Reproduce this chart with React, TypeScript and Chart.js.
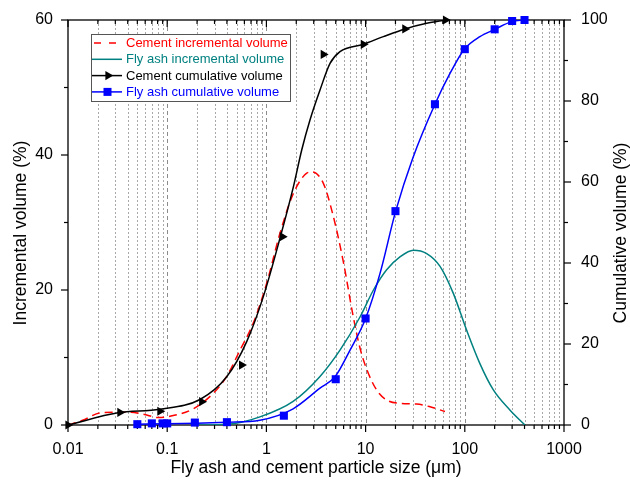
import { useEffect, useRef } from 'react';
import { Chart, registerables } from 'chart.js';

Chart.register(...registerables);

// Particle size axis (µm), log scale
const SIZE_MIN = 0.01;
const SIZE_MAX = 1000;
const DECADES = [0.01, 0.1, 1, 10, 100, 1000];
const DECADE_LABELS = ['0.01', '0.1', '1', '10', '100', '1000'];
const INC_TICKS = [0, 20, 40, 60];
const CUM_TICKS = [0, 20, 40, 60, 80, 100];

// Cement incremental volume (%) – fitted distribution curve
const CEMENT_INC_SIZE = [0.01, 0.0143, 0.021, 0.0334, 0.0422, 0.0574, 0.082, 0.115, 0.183, 0.292, 0.398, 0.542, 0.738, 1.007, 1.37, 1.87, 2.55, 2.9, 3.75, 4.73, 5.96, 7.52, 8.78, 10.3, 12.9, 16.3, 22.2, 32.7, 44.6, 63.1];
const CEMENT_INC = [0, 0.74, 1.8, 1.9, 1.9, 1.6, 1.1, 1.4, 2.4, 4.7, 7.2, 11.1, 15.1, 21.0, 28.4, 34.3, 37.3, 37.5, 35.8, 30.9, 24.2, 16.0, 11.4, 8.2, 5.2, 3.7, 3.2, 3.1, 2.7, 2.0];

// Fly ash incremental volume (%) – fitted distribution curve
const FLYASH_INC_SIZE = [0.2, 0.41, 0.86, 1.86, 3.47, 5.52, 8.78, 12.0, 16.3, 22.2, 30.3, 41.3, 56.3, 76.6, 104, 142, 194, 286, 404];
const FLYASH_INC = [0, 0.1, 1.2, 3.5, 7.2, 11.1, 16.0, 20.0, 23.0, 24.9, 25.9, 25.4, 23.5, 19.5, 14.1, 9.1, 5.2, 2.2, 0];

// Cement cumulative volume (%) – fitted curve and measured points
const CEMENT_CUM_SIZE = [0.01, 0.0319, 0.0845, 0.214, 0.398, 0.633, 0.931, 1.37, 1.87, 2.27, 2.75, 3.47, 4.38, 5.52, 9.48, 15.1, 24.9, 41.3, 64.1];
const CEMENT_CUM = [0, 3.0, 3.9, 6.3, 11.9, 20.6, 31.7, 46.1, 58.8, 67.9, 75.3, 82.7, 89.3, 92.2, 94.0, 95.9, 97.8, 99.2, 100];
const CEMENT_PTS_SIZE = [0.01, 0.0334, 0.0845, 0.223, 0.563, 1.45, 3.75, 9.5, 24.9, 64];
const CEMENT_PTS = [0, 3.1, 3.4, 5.75, 14.8, 46.5, 91.5, 94.0, 97.8, 100];

// Fly ash cumulative volume (%) – fitted curve and measured points
const FLYASH_CUM_SIZE = [0.05, 0.1, 0.2, 0.4, 0.86, 1.86, 3.47, 4.92, 6.97, 10.0, 14.0, 20.1, 30.0, 50, 70.9, 98.9, 142, 201, 297, 404];
const FLYASH_CUM = [0.2, 0.3, 0.45, 0.7, 1.2, 4.0, 9.1, 11.9, 18.5, 26.3, 37.5, 52.8, 66.0, 79.2, 86.8, 92.8, 95.9, 97.7, 99.6, 100];
const FLYASH_PTS_SIZE = [0.05, 0.07, 0.09, 0.1, 0.19, 0.4, 1.5, 5, 10, 20, 50, 100, 200, 300, 400];
const FLYASH_PTS = [0.2, 0.4, 0.4, 0.4, 0.6, 0.7, 2.3, 11.3, 26.3, 52.8, 79.2, 92.8, 97.7, 99.75, 100];

const SERIES_NAMES = ['Cement incremental volume', 'Fly ash incremental volume', 'Cement cumulative volume', 'Fly ash cumulative volume'];
const X_TITLE = 'Fly ash and cement particle size (\u03bcm)';
const Y_TITLE = 'Incremental volume (%)';
const Y1_TITLE = 'Cumulative volume (%)';

const RED = '#ff0000';
const TEAL = '#008080';
const BLACK = '#000000';
const BLUE = '#0000ff';
const FONT = '"Liberation Sans", Arial, sans-serif';

const pts = (xs: number[], ys: number[]) => xs.map((x, i) => ({ x, y: ys[i] }));

function drawTriangleRight(ctx: CanvasRenderingContext2D, x: number, y: number, r: number) {
  ctx.beginPath();
  ctx.moveTo(x + r, y);
  ctx.lineTo(x - r / 2, y - (r * Math.sqrt(3)) / 2);
  ctx.lineTo(x - r / 2, y + (r * Math.sqrt(3)) / 2);
  ctx.closePath();
  ctx.fill();
}

const framePlugin = {
  id: 'frameAndGrid',
  beforeDatasetsDraw(chart: any) {
    const { ctx, chartArea: a, scales } = chart;
    const xs = scales.x;
    ctx.save();
    // vertical log grid
    for (let d = 0; d < DECADES.length - 1; d++) {
      for (let m = 1; m <= 9; m++) {
        const v = DECADES[d] * m;
        if (v <= SIZE_MIN || v >= SIZE_MAX) continue;
        const px = Math.round(xs.getPixelForValue(v)) + 0.5;
        const major = m === 1;
        ctx.strokeStyle = major ? '#8c8c8c' : '#a8a8a8';
        ctx.lineWidth = 1;
        ctx.setLineDash(major ? [4, 3] : [2, 2]);
        ctx.beginPath();
        ctx.moveTo(px, a.top);
        ctx.lineTo(px, a.bottom);
        ctx.stroke();
      }
    }
    ctx.setLineDash([]);
    // frame
    ctx.strokeStyle = BLACK;
    ctx.lineWidth = 1.3;
    ctx.strokeRect(a.left, a.top, a.right - a.left, a.bottom - a.top);
    // x ticks: outward at bottom, inward at top
    ctx.lineWidth = 1.2;
    for (let d = 0; d < DECADES.length; d++) {
      for (let m = 1; m <= 9; m++) {
        const v = DECADES[d] * m;
        if (v > SIZE_MAX * 1.0001) break;
        const px = xs.getPixelForValue(v);
        const len = m === 1 ? 7 : 4;
        ctx.beginPath();
        ctx.moveTo(px, a.bottom);
        ctx.lineTo(px, a.bottom + len);
        ctx.moveTo(px, a.top);
        ctx.lineTo(px, a.top + len);
        ctx.stroke();
      }
    }
    // y ticks (left, outward)
    for (let v = 0; v <= 60; v += 10) {
      const py = scales.y.getPixelForValue(v);
      const len = v % 20 === 0 ? 7 : 4;
      ctx.beginPath();
      ctx.moveTo(a.left, py);
      ctx.lineTo(a.left - len, py);
      ctx.stroke();
    }
    // y1 ticks (right, outward)
    for (let v = 0; v <= 100; v += 10) {
      const py = scales.y1.getPixelForValue(v);
      const len = v % 20 === 0 ? 7 : 4;
      ctx.beginPath();
      ctx.moveTo(a.right, py);
      ctx.lineTo(a.right + len, py);
      ctx.stroke();
    }
    ctx.restore();
  },
  afterDraw(chart: any) {
    const { ctx, chartArea: a } = chart;
    ctx.save();
    // axis titles
    ctx.fillStyle = BLACK;
    ctx.font = `17.5px ${FONT}`;
    ctx.textAlign = 'center';
    ctx.textBaseline = 'middle';
    ctx.fillText(X_TITLE, (a.left + a.right) / 2, 468);
    ctx.save();
    ctx.translate(21, 233);
    ctx.rotate(-Math.PI / 2);
    ctx.fillText(Y_TITLE, 0, 0);
    ctx.restore();
    ctx.save();
    ctx.translate(621, 233);
    ctx.rotate(-Math.PI / 2);
    ctx.fillText(Y1_TITLE, 0, 0);
    ctx.restore();

    // legend
    const bx = 91, by = 34, bw = 200, bh = 68;
    ctx.fillStyle = '#ffffff';
    ctx.fillRect(bx, by, bw, bh);
    ctx.strokeStyle = '#555555';
    ctx.lineWidth = 1;
    ctx.strokeRect(bx + 0.5, by + 0.5, bw - 1, bh - 1);
    const colors = [RED, TEAL, BLACK, BLUE];
    ctx.font = `13px ${FONT}`;
    ctx.textAlign = 'left';
    SERIES_NAMES.forEach((name, i) => {
      const y = 43 + i * 16.3;
      const c = colors[i];
      ctx.strokeStyle = c;
      ctx.fillStyle = c;
      ctx.lineWidth = 1.5;
      ctx.setLineDash(i === 0 ? [7, 8] : []);
      ctx.beginPath();
      ctx.moveTo(i === 0 ? 94 : 92, y);
      ctx.lineTo(122, y);
      ctx.stroke();
      ctx.setLineDash([]);
      if (i === 2) drawTriangleRight(ctx, 108, y, 5.3);
      if (i === 3) ctx.fillRect(103.5, y - 4, 8, 8);
      ctx.fillText(name, 126, y + 0.5);
    });
    ctx.restore();
  },
};

export default function App() {
  const ref = useRef<HTMLCanvasElement>(null);

  useEffect(() => {
    document.body.style.margin = '0';
    const line = {
      showLine: true,
      pointRadius: 0,
      borderWidth: 1.5,
      cubicInterpolationMode: 'monotone' as const,
    };
    const chart = new Chart(ref.current!, {
      type: 'scatter',
      data: {
        datasets: [
          { ...line, label: SERIES_NAMES[0], data: pts(CEMENT_INC_SIZE, CEMENT_INC), borderColor: RED, borderDash: [8, 5], yAxisID: 'y', order: 5 },
          { ...line, label: SERIES_NAMES[1], data: pts(FLYASH_INC_SIZE, FLYASH_INC), borderColor: TEAL, yAxisID: 'y', order: 4 },
          { ...line, label: SERIES_NAMES[2], data: pts(CEMENT_CUM_SIZE, CEMENT_CUM), borderColor: BLACK, yAxisID: 'y1', order: 3 },
          { ...line, label: SERIES_NAMES[3], data: pts(FLYASH_CUM_SIZE, FLYASH_CUM), borderColor: BLUE, yAxisID: 'y1', order: 2 },
          {
            label: SERIES_NAMES[2], data: pts(CEMENT_PTS_SIZE, CEMENT_PTS), yAxisID: 'y1', order: 1,
            showLine: false, pointStyle: 'triangle', rotation: 90, pointRadius: 5.3,
            backgroundColor: BLACK, borderColor: BLACK, borderWidth: 0, clip: false,
          },
          {
            label: SERIES_NAMES[3], data: pts(FLYASH_PTS_SIZE, FLYASH_PTS), yAxisID: 'y1', order: 0,
            showLine: false, pointStyle: 'rect', pointRadius: 5.7,
            backgroundColor: BLUE, borderColor: BLUE, borderWidth: 0, clip: false,
          },
        ],
      },
      options: {
        responsive: false,
        animation: false,
        events: [],
        layout: { padding: { top: 20, left: 0, right: 0, bottom: 0 } },
        plugins: { legend: { display: false }, tooltip: { enabled: false } },
        scales: {
          x: {
            type: 'logarithmic',
            min: SIZE_MIN,
            max: SIZE_MAX,
            grid: { display: false },
            border: { display: false },
            afterBuildTicks: (s: any) => { s.ticks = DECADES.map((v) => ({ value: v, major: true })); },
            afterFit: (s: any) => { s.height = 69; },
            ticks: {
              autoSkip: false,
              maxRotation: 0,
              padding: 7,
              color: BLACK,
              font: { family: FONT, size: 16 },
              callback: (v: any) => {
                const i = DECADES.findIndex((d) => Math.abs(d - Number(v)) < d * 1e-6);
                return i >= 0 ? DECADE_LABELS[i] : '';
              },
            },
          },
          y: {
            position: 'left',
            min: 0,
            max: 60,
            grid: { display: false },
            border: { display: false },
            afterBuildTicks: (s: any) => { s.ticks = INC_TICKS.map((v) => ({ value: v })); },
            afterFit: (s: any) => { s.width = 68; },
            ticks: { padding: 7, color: BLACK, font: { family: FONT, size: 16 } },
          },
          y1: {
            position: 'right',
            min: 0,
            max: 100,
            grid: { display: false },
            border: { display: false },
            afterBuildTicks: (s: any) => { s.ticks = CUM_TICKS.map((v) => ({ value: v })); },
            afterFit: (s: any) => { s.width = 66; },
            ticks: { padding: 9, color: BLACK, font: { family: FONT, size: 16 } },
          },
        },
      },
      plugins: [framePlugin],
    });
    return () => chart.destroy();
  }, []);

  return (
    <div style={{ width: 630, height: 494 }}>
      <canvas ref={ref} width={630} height={494} style={{ display: 'block' }} />
    </div>
  );
}
